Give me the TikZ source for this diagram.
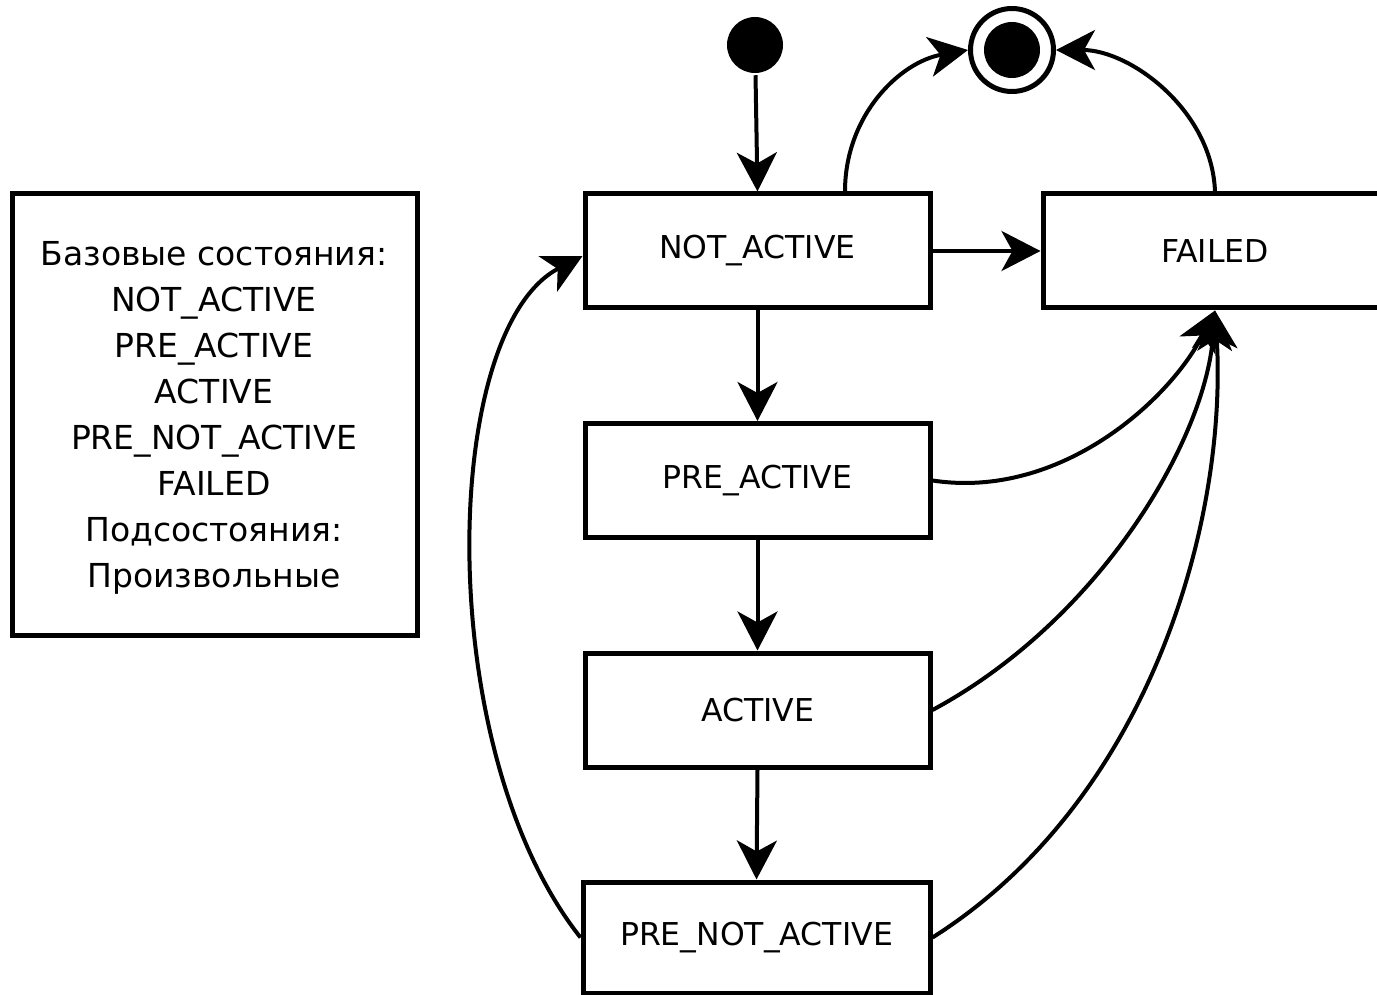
\documentclass[tikz,border=0pt]{standalone}
\usepackage{fontspec}
\setmainfont{DejaVu Sans}
\usetikzlibrary{arrows.meta}
\begin{document}
\begin{tikzpicture}[x=1pt,y=-1pt, line width=4.5pt,
  arr/.style={-{Stealth[length=39pt,width=40pt,inset=11pt]}, line width=4pt},
  state/.style={draw, line width=5pt, minimum width=345pt, minimum height=114pt, inner sep=0pt,
    font=\fontsize{31.5}{36}\selectfont},
  legend/.style={draw, line width=5pt, minimum width=405pt, minimum height=441pt, inner sep=0pt,
    align=center, font=\fontsize{33}{46}\selectfont},
  initst/.style={circle, fill=black, minimum size=56pt, inner sep=0pt},
  finalst/.style={circle, draw, line width=5pt, minimum size=83pt, inner sep=0pt},
  finalin/.style={circle, fill=black, minimum size=56pt, inner sep=0pt}]
\useasboundingbox (0,0) rectangle (1377,995);
\begin{scope}
\clip (0,0) rectangle (1377,995);
\node[legend] (leg) at (214.5,414.5) {};
\node[align=center, font=\fontsize{33}{46}\selectfont, inner sep=0pt] (legtxt) at (214,417.5) {Базовые состояния:\\NOT\_ACTIVE\\PRE\_ACTIVE\\ACTIVE\\PRE\_NOT\_ACTIVE\\FAILED\\Подсостояния:\\Произвольные};
\node[state] (na) at (757.5,251) {NOT\_ACTIVE};
\node[state] (pa) at (757.5,480.5) {PRE\_ACTIVE};
\node[state] (ac) at (757.5,710) {ACTIVE};
\node[state, minimum width=347pt, minimum height=111pt] (pna) at (756.5,937.5) {PRE\_NOT\_ACTIVE};
\node[state, minimum width=344pt] (fl) at (1215,251) {FAILED};
\node[initst] (init) at (755,45) {};
\node[finalst] (fin) at (1012,50) {};
\node[finalin] (finin) at (1012,50) {};

\draw[arr] (init) -- (na.north);
\draw[arr] (na.south) -- (pa.north);
\draw[arr] (pa.south) -- (ac.north);
\draw[arr] (ac.south) -- (pna.north);
\draw[arr] (na.east) -- (fl.west);
\draw[arr] ([xshift=87.5pt]na.north) .. controls (845,115) and (900,62) .. (fin.west);
\draw[arr] (fl.north) .. controls (1212,110) and (1130,50) .. (fin.east);
\draw[arr] (pa.east) .. controls (1060,500) and (1170,400) .. (fl.south);
\draw[arr] (ac.east) .. controls (1100,620) and (1205,440) .. (fl.south);
\draw[arr] (pna.east) .. controls (1150,800) and (1228,520) .. (fl.south);
\draw[arr] (pna.west) .. controls (432,750) and (440,330) .. ([yshift=-5pt]na.west);
\end{scope}
\end{tikzpicture}
\end{document}
